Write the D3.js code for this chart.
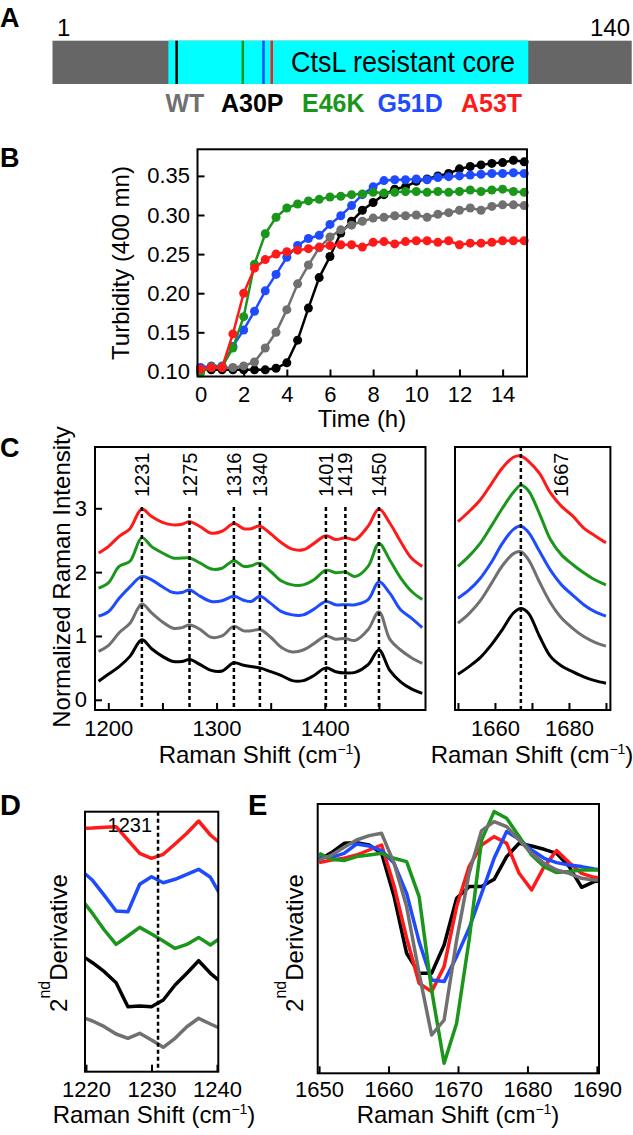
<!DOCTYPE html>
<html><head><meta charset="utf-8">
<script src="https://cdn.jsdelivr.net/npm/d3@7"></script>
<style>
body{margin:0;background:#fff;}
svg{display:block;}
text{font-family:"Liberation Sans",Arial,Helvetica,sans-serif;}
</style>
</head><body>
<svg id="chart" width="633" height="1135"></svg>
<script>
// ---------------- DATA ----------------
const variants = ["WT","A30P","E46K","G51D","A53T"];
const variantColors = ["#707070","#000000","#1a961a","#1f4bff","#ff1a1a"];

// Panel A
const seqDomain = [0, 140];
const coreRange = [28, 115];
const mutNames = ["A30P","E46K","G51D","A53T"];
const mutResidues = [30, 46, 51, 53];

// Panel B: turbidity
const timeH = [0,0.5,1,1.5,2,2.5,3,3.5,4,4.5,5,5.5,6,6.5,7,7.5,8,8.5,9,9.5,10,10.5,11,11.5,12,12.5,13,13.5,14,14.5,15];
const turbWT   = [0.104,0.105,0.105,0.105,0.107,0.112,0.130,0.150,0.179,0.212,0.236,0.258,0.272,0.281,0.287,0.292,0.296,0.297,0.299,0.299,0.300,0.297,0.301,0.303,0.306,0.309,0.306,0.311,0.313,0.313,0.312];
const turbA30P = [0.102,0.102,0.102,0.102,0.102,0.102,0.102,0.104,0.111,0.140,0.181,0.220,0.247,0.277,0.292,0.306,0.316,0.326,0.333,0.336,0.343,0.346,0.350,0.353,0.359,0.362,0.364,0.366,0.367,0.370,0.368];
const turbE46K = [0.098,0.106,0.106,0.130,0.170,0.237,0.276,0.297,0.309,0.314,0.318,0.320,0.323,0.324,0.326,0.327,0.329,0.328,0.329,0.330,0.330,0.329,0.330,0.329,0.330,0.332,0.330,0.332,0.333,0.330,0.329];
const turbG51D = [0.105,0.107,0.107,0.132,0.153,0.177,0.203,0.224,0.246,0.261,0.270,0.274,0.288,0.299,0.312,0.326,0.336,0.344,0.345,0.345,0.346,0.345,0.348,0.349,0.350,0.351,0.352,0.353,0.353,0.354,0.353];
const turbA53T = [0.103,0.105,0.105,0.148,0.200,0.232,0.243,0.250,0.253,0.255,0.257,0.259,0.261,0.262,0.262,0.259,0.265,0.266,0.263,0.266,0.267,0.267,0.265,0.267,0.262,0.264,0.264,0.265,0.267,0.267,0.267];
const turbTicksX = [0,2,4,6,8,10,12,14];
const turbTicksY = [0.10,0.15,0.20,0.25,0.30,0.35];

// Panel C: Raman spectra 1190-1490
const ramanX = [1191,1200,1210,1220,1231,1240,1250,1260,1268,1275,1285,1295,1305,1316,1325,1332,1340,1350,1360,1370,1380,1390,1401,1410,1419,1428,1440,1450,1460,1470,1480,1490];
const ramanWT   = [0.76,0.85,1.05,1.20,1.50,1.36,1.22,1.12,1.13,1.17,1.10,0.98,1.00,1.15,1.08,1.08,1.10,0.98,0.82,0.75,0.78,0.88,1.00,0.95,0.96,0.93,1.10,1.38,0.95,0.78,0.66,0.57];
const ramanA30P = [0.29,0.40,0.52,0.68,0.94,0.80,0.68,0.60,0.60,0.63,0.55,0.46,0.45,0.58,0.54,0.52,0.50,0.44,0.38,0.30,0.30,0.38,0.50,0.44,0.42,0.43,0.55,0.78,0.46,0.28,0.17,0.10];
const ramanE46K = [1.75,1.83,2.09,2.17,2.54,2.40,2.30,2.22,2.22,2.22,2.14,2.05,2.06,2.18,2.09,2.10,2.14,2.01,1.86,1.80,1.80,1.88,2.03,1.99,2.00,1.93,2.09,2.45,2.19,1.91,1.70,1.57];
const ramanG51D = [1.31,1.38,1.59,1.77,1.93,1.88,1.77,1.68,1.68,1.72,1.62,1.54,1.55,1.62,1.56,1.54,1.62,1.51,1.38,1.33,1.33,1.42,1.54,1.49,1.49,1.49,1.57,1.85,1.67,1.41,1.28,1.13];
const ramanA53T = [2.30,2.40,2.56,2.68,2.99,2.87,2.78,2.74,2.75,2.79,2.71,2.61,2.64,2.76,2.68,2.68,2.72,2.60,2.46,2.36,2.35,2.45,2.57,2.51,2.54,2.51,2.72,2.99,2.77,2.48,2.22,2.09];
const ramanPeaks = [1231,1275,1316,1340,1401,1419,1450];
const ramanTicks = [1200,1250,1300,1350,1400,1450];
const ramanTickLabels = [1200,1300,1400];
const intensityTicks = [0,1,2,3];

// Panel C right: amide I
const amideX = [1650,1653,1656,1659,1662,1665,1667,1669,1672,1675,1678,1681,1684,1687,1690];
const amideWT   = [1.20,1.35,1.55,1.82,2.10,2.29,2.32,2.20,1.85,1.52,1.28,1.12,0.99,0.90,0.84];
const amideA30P = [0.40,0.52,0.66,0.86,1.10,1.36,1.43,1.36,1.00,0.68,0.53,0.44,0.36,0.30,0.26];
const amideE46K = [2.09,2.25,2.45,2.72,3.00,3.25,3.36,3.28,2.92,2.51,2.27,2.12,1.99,1.88,1.80];
const amideG51D = [1.59,1.72,1.90,2.15,2.45,2.67,2.72,2.63,2.33,2.03,1.80,1.64,1.49,1.38,1.31];
const amideA53T = [2.79,2.95,3.13,3.38,3.63,3.80,3.82,3.74,3.55,3.24,3.03,2.88,2.69,2.57,2.46];
const amidePeaks = [1667];
const amideTicks = [1650,1660,1670,1680,1690];
const amideTickLabels = [1660,1680];

// Panel D: 2nd derivative 1220-1240 (arbitrary units, stacked)
const derivDX = [1219.2,1221.0,1222.8,1224.6,1226.4,1228.2,1230.0,1231.8,1233.6,1235.4,1237.2,1239.0,1240.8];
const derivDWT   = [5.5,5.07,4.5,3.77,3.34,3.84,3.17,2.44,3.34,4.5,5.34,4.77,4.24];
const derivDA30P = [11.67,10.9,10.0,8.9,6.5,6.57,6.5,7.17,8.67,9.84,11.1,9.84,8.84];
const derivDE46K = [17.33,15.83,14.17,12.73,13.57,14.43,13.77,13.07,12.33,12.73,13.43,12.67,13.5];
const derivDG51D = [20.17,19.14,17.64,16.07,16.0,18.74,19.5,18.9,19.24,19.74,20.24,19.44,17.34];
const derivDA53T = [24.34,24.37,24.44,24.5,23.17,21.84,21.34,21.74,22.77,23.84,25.07,23.67,22.67];
const derivDPeaks = [1231];
const derivDTicks = [1220,1230,1240];

// Panel E: 2nd derivative 1650-1690 (arbitrary units, overlaid)
const derivEX = [1650.0,1651.8,1653.6,1655.4,1657.2,1659.0,1660.8,1662.6,1664.4,1666.2,1668.0,1669.8,1671.6,1673.4,1675.2,1677.0,1678.8,1680.6,1682.4,1684.2,1686.0,1687.8,1689.6,1691.4];
const derivEWT   = [1.33,1.83,2.6,3.33,3.77,4.0,1.0,-3.33,-10.0,-16.17,-14.67,-6.67,0.0,4.27,5.17,4.67,3.33,2.0,1.0,0.33,0.0,-0.5,-0.67,-0.67];
const derivEA30P = [1.33,2.07,3.0,3.07,2.83,2.0,-2.33,-8.0,-10.0,-10.0,-7.17,-2.5,-1.33,-1.33,-0.6,1.67,3.0,2.73,2.4,2.0,0.67,-1.4,-0.83,-0.67];
const derivEE46K = [2.0,1.4,1.27,1.67,1.83,2.0,1.5,1.17,-2.33,-11.67,-19.0,-15.0,-6.67,3.33,6.17,5.5,3.67,1.83,0.67,0.07,0.17,0.33,0.33,0.33];
const derivEG51D = [1.67,1.6,2.0,2.93,2.73,2.27,1.0,-2.0,-6.83,-10.67,-10.83,-8.33,-5.5,-2.0,1.5,4.17,3.4,2.33,1.5,1.07,0.83,0.67,0.43,0.33];
const derivEA53T = [1.07,1.33,1.5,1.83,2.33,2.83,-1.27,-6.47,-11.0,-11.83,-9.33,-3.33,0.67,2.83,3.67,3.0,0.0,-1.67,0.67,2.27,1.07,0.0,-0.4,-0.5];
const derivETicks = [1650,1660,1670,1680,1690];

// ---------------- DRAWING ----------------
const svg = d3.select("#chart");
const colorOf = d3.scaleOrdinal().domain(variants).range(variantColors);
const fmtInt = d3.format("d");

function frame(x0,y0,x1,y1){
  svg.append("rect").attr("x",x0).attr("y",y0).attr("width",x1-x0).attr("height",y1-y0)
    .attr("fill","none").attr("stroke","#000").attr("stroke-width",2);
}
function styleAxis(g, fs){
  g.select(".domain").remove();
  g.selectAll(".tick line").attr("stroke","#000").attr("stroke-width",2);
  g.selectAll(".tick text").attr("fill","#000").style("font-size",fs+"px")
    .style("font-family",'"Liberation Sans",Arial,sans-serif');
}
function clip(id,x0,y0,x1,y1){
  svg.append("clipPath").attr("id",id).append("rect").attr("x",x0).attr("y",y0).attr("width",x1-x0).attr("height",y1-y0);
}
function panelLetter(t,x,y,fs){
  svg.append("text").attr("x",x).attr("y",y).text(t).style("font-size",fs+"px").style("font-weight","bold");
}
function shiftTitle(x,y){
  const t = svg.append("text").attr("x",x).attr("y",y).attr("text-anchor","middle").style("font-size","24px");
  t.append("tspan").text("Raman Shift (cm");
  t.append("tspan").attr("dy",-9).style("font-size","14px").text("\u22121");
  t.append("tspan").attr("dy",9).text(")");
}
function derivTitle(x,y){
  const g = svg.append("g").attr("transform",`translate(${x},${y}) rotate(-90)`);
  const t = g.append("text").attr("text-anchor","middle").style("font-size","24px");
  t.append("tspan").text("2");
  t.append("tspan").attr("dy",-17).style("font-size","16px").text("nd");
  t.append("tspan").attr("dy",17).text("Derivative");
}

// ---- Panel A ----
panelLetter("A",0,27,27);
const xA = d3.scaleLinear().domain(seqDomain).range([52.5,631.7]);
svg.append("rect").attr("x",xA(seqDomain[0])).attr("y",40.7).attr("width",xA(seqDomain[1])-xA(seqDomain[0])).attr("height",43.3).attr("fill","#666666");
svg.append("rect").attr("x",xA(coreRange[0])).attr("y",40.7).attr("width",xA(coreRange[1])-xA(coreRange[0])).attr("height",43.3).attr("fill","#00ffff");
svg.selectAll(".mut").data(mutResidues).enter().append("line")
  .attr("x1",d=>xA(d)).attr("x2",d=>xA(d)).attr("y1",40.7).attr("y2",84)
  .attr("stroke",(d,i)=>colorOf(mutNames[i])).attr("stroke-width",2.5);
svg.append("text").attr("x",57).attr("y",36).text("1").style("font-size","24px");
svg.append("text").attr("x",630).attr("y",36).attr("text-anchor","end").text("140").style("font-size","24px");
svg.append("g").attr("transform","translate(403,71.7) scale(1,1.12)")
  .append("text").attr("text-anchor","middle").text("CtsL resistant core").style("font-size","27px");
const labelX = [165.5,221,302,377.5,461];
svg.selectAll(".vlab").data(variants).enter().append("text")
  .attr("x",(d,i)=>labelX[i]).attr("y",112).text(d=>d)
  .attr("fill",d=>colorOf(d)).style("font-size","25px").style("font-weight","bold");

// ---- Panel B ----
panelLetter("B",0,167,27);
const xB = d3.scaleLinear().domain([-0.14,15.13]).range([197.5,527]);
const yB = d3.scaleLinear().domain([0.0935,0.384]).range([376.5,149.3]);
styleAxis(svg.append("g").attr("transform","translate(0,376.5)")
  .call(d3.axisBottom(xB).tickValues(turbTicksX).tickFormat(fmtInt).tickSizeInner(-7).tickSizeOuter(0).tickPadding(9.5)),22);
styleAxis(svg.append("g").attr("transform","translate(197.5,0)")
  .call(d3.axisLeft(yB).tickValues(turbTicksY).tickFormat(d3.format(".2f")).tickSizeInner(-7).tickSizeOuter(0).tickPadding(7.5)),22);
const turbSeries = [
  {name:"A30P", v:turbA30P},{name:"WT", v:turbWT},{name:"G51D", v:turbG51D},{name:"E46K", v:turbE46K},{name:"A53T", v:turbA53T}];
const lineB = d3.line().x((d,i)=>xB(timeH[i])).y(d=>yB(d));
turbSeries.forEach(s=>{
  const g = svg.append("g");
  g.append("path").attr("d",lineB(s.v)).attr("fill","none").attr("stroke",colorOf(s.name)).attr("stroke-width",2.5);
  g.selectAll("circle").data(s.v).enter().append("circle")
    .attr("cx",(d,i)=>xB(timeH[i])).attr("cy",d=>yB(d)).attr("r",4.5).attr("fill",colorOf(s.name));
});
frame(197.5,149.3,527,376.5);
svg.append("text").attr("x",362).attr("y",427).attr("text-anchor","middle").text("Time (h)").style("font-size","24px");
svg.append("text").attr("transform","translate(129,263) rotate(-90)").attr("text-anchor","middle").text("Turbidity (400 mn)").style("font-size","24px");

// ---- Panel C ----
panelLetter("C",0,457,27);
const xC = d3.scaleLinear().domain([1187.7,1493]).range([95,425.5]);
const yC = d3.scaleLinear().domain([-0.16,3.96]).range([710,447]);
const xR = d3.scaleLinear().domain([1649.2,1691.2]).range([455,610.4]);
clip("clipC",95,447,425.5,710);
clip("clipR",455,447,610.4,710);
const ramanSeries = [
  {name:"A30P",v:ramanA30P},{name:"WT",v:ramanWT},{name:"G51D",v:ramanG51D},{name:"E46K",v:ramanE46K},{name:"A53T",v:ramanA53T}];
const amideSeries = [
  {name:"A30P",v:amideA30P},{name:"WT",v:amideWT},{name:"G51D",v:amideG51D},{name:"E46K",v:amideE46K},{name:"A53T",v:amideA53T}];
const lineC = d3.line().curve(d3.curveCatmullRom.alpha(0.5)).x((d,i)=>xC(ramanX[i])).y(d=>yC(d));
const lineR = d3.line().curve(d3.curveCatmullRom.alpha(0.5)).x((d,i)=>xR(amideX[i])).y(d=>yC(d));
const gC = svg.append("g").attr("clip-path","url(#clipC)");
ramanSeries.forEach(s=>gC.append("path").attr("d",lineC(s.v)).attr("fill","none").attr("stroke",colorOf(s.name)).attr("stroke-width",3));
const gR = svg.append("g").attr("clip-path","url(#clipR)");
amideSeries.forEach(s=>gR.append("path").attr("d",lineR(s.v)).attr("fill","none").attr("stroke",colorOf(s.name)).attr("stroke-width",3));
// dashed peak markers
svg.selectAll(".pkC").data(ramanPeaks).enter().append("line")
  .attr("x1",d=>xC(d)).attr("x2",d=>xC(d)).attr("y1",yC(3.02)).attr("y2",710)
  .attr("stroke","#000").attr("stroke-width",2.5).attr("stroke-dasharray","4,3");
svg.selectAll(".pkCt").data(ramanPeaks).enter().append("text")
  .attr("transform",d=>`translate(${xC(d)},497) rotate(-90)`).attr("dy","0.35em")
  .text(d=>d).style("font-size","20px");
svg.selectAll(".pkR").data(amidePeaks).enter().append("line")
  .attr("x1",d=>xR(d)).attr("x2",d=>xR(d)).attr("y1",447).attr("y2",710)
  .attr("stroke","#000").attr("stroke-width",2.5).attr("stroke-dasharray","4,3");
svg.selectAll(".pkRt").data(amidePeaks).enter().append("text")
  .attr("transform",d=>`translate(${xR(d)+40},497) rotate(-90)`).attr("dy","0.35em")
  .text(d=>d).style("font-size","20px");
// axes C
const axC = svg.append("g").attr("transform","translate(0,710)")
  .call(d3.axisBottom(xC).tickValues(ramanTicks).tickFormat(d=>ramanTickLabels.includes(d)?fmtInt(d):"").tickSizeInner(-7).tickSizeOuter(0).tickPadding(10.5));
styleAxis(axC,22);
styleAxis(svg.append("g").attr("transform","translate(95,0)")
  .call(d3.axisLeft(yC).tickValues(intensityTicks).tickFormat(fmtInt).tickSizeInner(-7).tickSizeOuter(0).tickPadding(8)),22);
const axR = svg.append("g").attr("transform","translate(0,710)")
  .call(d3.axisBottom(xR).tickValues(amideTicks).tickFormat(d=>amideTickLabels.includes(d)?fmtInt(d):"").tickSizeInner(-7).tickSizeOuter(0).tickPadding(10.5));
styleAxis(axR,22);
frame(95,447,425.5,710);
frame(455,447,610.4,710);
shiftTitle(260,763);
shiftTitle(532,763);
svg.append("text").attr("transform","translate(70,577) rotate(-90)").attr("text-anchor","middle").text("Normalized Raman Intensity").style("font-size","24px");

// ---- Panel D ----
panelLetter("D",0,815,29);
const xD = d3.scaleLinear().domain([1219.85,1240.2]).range([85,218.3]);
const yD = d3.scaleLinear().domain([0,26]).range([1071.7,811.7]);
clip("clipD",85,811.7,218.3,1071.7);
const derivDSeries = [
  {name:"WT",v:derivDWT},{name:"A30P",v:derivDA30P},{name:"E46K",v:derivDE46K},{name:"G51D",v:derivDG51D},{name:"A53T",v:derivDA53T}];
const lineD = d3.line().x((d,i)=>xD(derivDX[i])).y(d=>yD(d));
const gD = svg.append("g").attr("clip-path","url(#clipD)");
derivDSeries.forEach(s=>gD.append("path").attr("d",lineD(s.v)).attr("fill","none").attr("stroke",colorOf(s.name)).attr("stroke-width",3.5).attr("stroke-linejoin","round"));
svg.selectAll(".pkD").data(derivDPeaks).enter().append("line")
  .attr("x1",d=>xD(d)).attr("x2",d=>xD(d)).attr("y1",811.7).attr("y2",1071.7)
  .attr("stroke","#000").attr("stroke-width",2.5).attr("stroke-dasharray","4,3");
svg.selectAll(".pkDt").data(derivDPeaks).enter().append("text")
  .attr("x",d=>xD(d)-6).attr("y",832).attr("text-anchor","end").text(d=>d).style("font-size","20px");
styleAxis(svg.append("g").attr("transform","translate(0,1071.7)")
  .call(d3.axisBottom(xD).tickValues(derivDTicks).tickFormat(fmtInt).tickSizeInner(-7).tickSizeOuter(0).tickPadding(9.5)),22);
frame(85,811.7,218.3,1071.7);
shiftTitle(154,1123);
derivTitle(67,943);

// ---- Panel E ----
panelLetter("E",248,815,29);
const xE = d3.scaleLinear().domain([1649.8,1690.3]).range([317.7,599]);
const yE = d3.scaleLinear().domain([-20,6.93]).range([1073.3,804]);
clip("clipE",317.7,804,599,1073.3);
const derivESeries = [
  {name:"A30P",v:derivEA30P},{name:"A53T",v:derivEA53T},{name:"G51D",v:derivEG51D},{name:"E46K",v:derivEE46K},{name:"WT",v:derivEWT}];
const lineE = d3.line().x((d,i)=>xE(derivEX[i])).y(d=>yE(d));
const gE = svg.append("g").attr("clip-path","url(#clipE)");
derivESeries.forEach(s=>gE.append("path").attr("d",lineE(s.v)).attr("fill","none").attr("stroke",colorOf(s.name)).attr("stroke-width",3.5).attr("stroke-linejoin","round"));
styleAxis(svg.append("g").attr("transform","translate(0,1073.3)")
  .call(d3.axisBottom(xE).tickValues(derivETicks).tickFormat(fmtInt).tickSizeInner(-7).tickSizeOuter(0).tickPadding(8.5)),22);
frame(317.7,804,599,1073.3);
shiftTitle(458,1123);
derivTitle(303,943);
</script>
</body></html>
